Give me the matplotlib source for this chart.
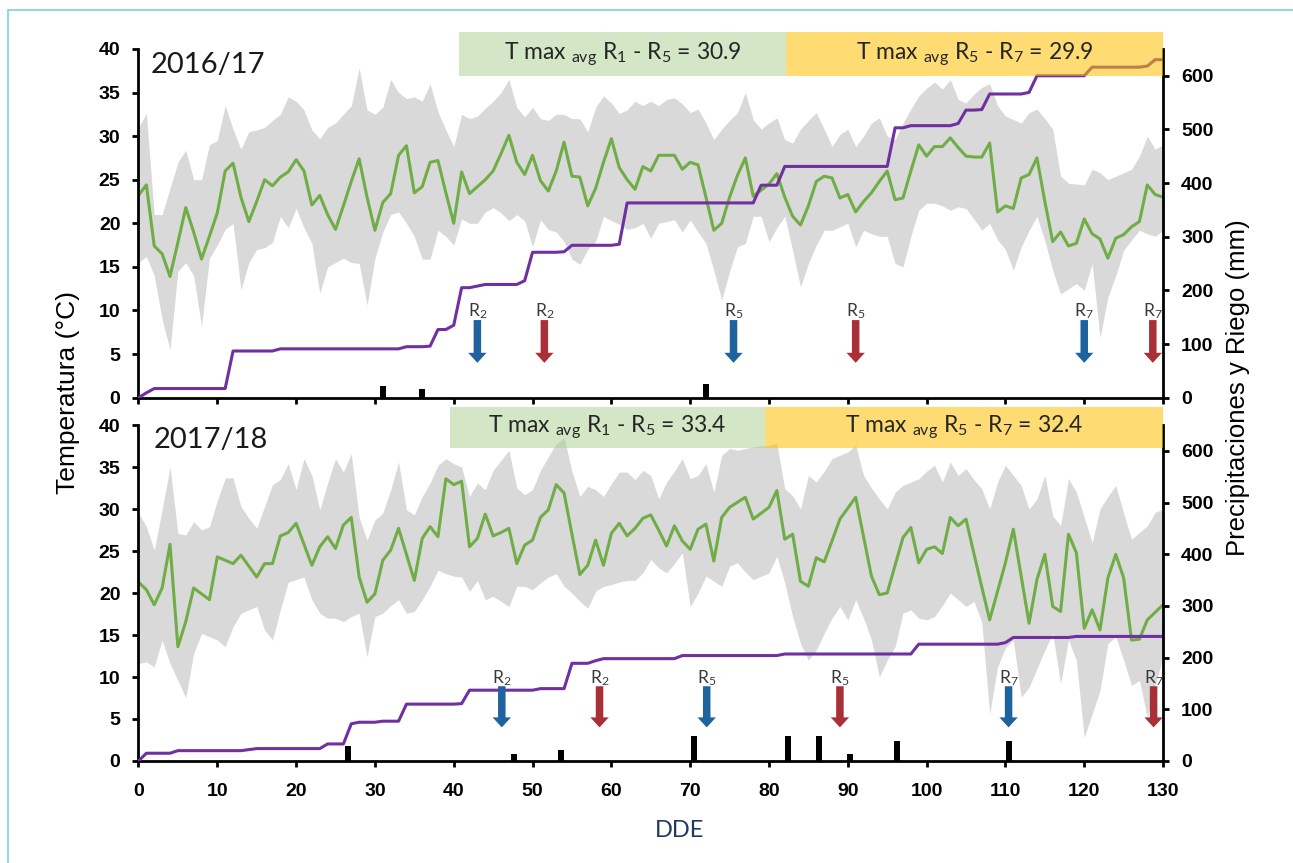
import matplotlib
matplotlib.use('Agg')
import matplotlib.pyplot as plt
from matplotlib.patches import Rectangle
import numpy as np

plt.rcParams['mathtext.fontset'] = 'custom'
plt.rcParams['mathtext.rm'] = 'Lato'
plt.rcParams['mathtext.it'] = 'Lato:italic'

# dias despues de emergencia
dde = np.arange(131)

# campaña 2016/17: temperatura media, maxima y minima diaria (°C)
t16_media = [23.2, 24.4, 17.4, 16.5, 13.9, 17.8, 21.8, 19.0, 15.9, 18.5,
             21.2, 26.0, 26.9, 23.0, 20.2, 22.5, 25.0, 24.3, 25.3, 25.9,
             27.3, 26.0, 22.1, 23.2, 21.0, 19.3, 22.0, 24.8, 27.4, 23.0,
             19.2, 22.4, 23.4, 27.8, 28.9, 23.5, 24.2, 27.0, 27.2, 23.5,
             20.0, 25.9, 23.4, 24.2, 25.0, 26.0, 28.0, 30.1, 27.0, 25.6,
             27.8, 24.9, 23.7, 26.0, 29.3, 25.4, 25.3, 22.0, 24.0, 27.0,
             29.7, 26.4, 25.0, 23.9, 26.5, 26.0, 27.8, 27.8, 27.8, 26.2,
             27.0, 26.7, 23.0, 19.2, 20.0, 23.0, 25.5, 27.5, 23.1, 23.8,
             24.5, 25.7, 23.0, 20.8, 19.8, 22.0, 24.8, 25.4, 25.2, 22.9,
             23.3, 21.3, 22.5, 23.5, 24.8, 26.0, 22.7, 22.9, 26.0, 29.0,
             27.7, 28.8, 28.8, 29.8, 28.7, 27.7, 27.6, 27.6, 29.2, 21.3,
             22.0, 21.7, 25.2, 25.6, 27.5, 22.5, 17.9, 19.0, 17.4, 17.7,
             20.5, 18.8, 18.2, 16.0, 18.3, 18.7, 19.6, 20.2, 24.4, 23.3,
             23.0]
t16_max = [31.0, 32.6, 21.0, 21.0, 24.0, 27.0, 28.4, 25.0, 25.0, 29.0,
           29.5, 33.5, 30.8, 28.5, 30.5, 30.7, 31.0, 31.8, 32.5, 34.5,
           34.0, 33.0, 30.7, 29.7, 31.0, 31.5, 32.5, 33.5, 37.8, 33.0,
           32.5, 33.3, 36.5, 35.0, 34.3, 34.5, 34.0, 36.0, 32.8, 30.7,
           28.8, 32.5, 32.0, 32.3, 33.2, 34.0, 35.0, 36.5, 33.3, 32.2,
           33.3, 32.0, 31.8, 32.5, 32.5, 32.0, 32.0, 30.5, 33.3, 34.6,
           33.8, 32.6, 33.0, 34.0, 33.5, 34.0, 33.5, 34.2, 34.4, 33.7,
           32.7, 33.1, 31.5, 29.6, 30.8, 31.8, 32.7, 35.0, 31.9, 30.8,
           31.5, 32.1, 29.6, 29.2, 30.8, 31.8, 32.7, 30.8, 28.8, 30.2,
           30.8, 28.8, 30.0, 31.5, 32.1, 30.0, 29.6, 31.5, 33.1, 34.6,
           35.5, 36.2, 35.4, 36.5, 34.2, 33.8, 34.8, 35.6, 36.0, 33.5,
           32.3, 31.9, 31.5, 32.7, 33.1, 32.0, 30.8, 25.4, 24.6, 24.5,
           24.4, 26.2, 25.8, 25.0, 25.4, 25.8, 26.2, 27.7, 30.0, 28.5,
           29.0]
t16_min = [15.5, 16.2, 14.0, 9.0, 5.5, 14.5, 15.5, 14.0, 8.2, 16.0,
           17.5, 19.3, 20.0, 12.4, 15.5, 17.0, 17.2, 17.8, 20.8, 19.5,
           21.7, 19.5, 17.7, 12.0, 15.0, 15.5, 16.0, 15.5, 15.4, 10.6,
           16.0, 19.0, 21.0, 21.3, 20.0, 18.5, 15.9, 15.9, 19.2, 18.5,
           17.5, 20.5, 20.0, 20.0, 21.3, 21.8, 21.2, 20.3, 21.0, 20.3,
           17.3, 20.4, 19.3, 19.0, 17.9, 15.9, 15.3, 17.0, 17.9, 20.8,
           20.3, 19.9, 19.3, 19.5, 20.0, 18.3, 20.0, 20.2, 20.4, 19.0,
           20.4, 19.0, 17.7, 14.6, 11.2, 14.5, 17.3, 17.7, 20.8, 20.8,
           17.9, 19.5, 20.8, 16.9, 12.7, 15.4, 17.5, 19.2, 19.2, 19.6,
           20.0, 17.3, 19.2, 18.8, 18.5, 18.5, 15.4, 15.0, 18.5, 21.5,
           22.3, 22.3, 22.0, 21.5, 21.9, 21.7, 20.5, 19.2, 20.0, 18.1,
           17.0, 14.6, 17.3, 19.2, 20.8, 18.0, 14.6, 11.9, 12.5, 13.1,
           12.3, 15.4, 6.9, 11.5, 14.0, 16.9, 18.1, 19.2, 18.8, 18.5,
           19.2]

# campaña 2017/18
t17_media = [21.3, 20.4, 18.6, 20.6, 25.8, 13.6, 16.6, 20.6, 19.9, 19.2,
             24.3, 23.9, 23.5, 24.5, 23.2, 21.9, 23.5, 23.5, 26.8, 27.2,
             28.3, 25.8, 23.3, 25.5, 26.7, 25.3, 28.1, 29.0, 21.9, 18.9,
             19.9, 23.9, 25.1, 27.7, 24.6, 21.5, 26.5, 27.9, 26.7, 33.6,
             32.9, 33.3, 25.5, 26.5, 29.4, 26.8, 27.2, 27.7, 23.5, 25.7,
             26.3, 29.0, 29.9, 32.9, 31.9, 27.0, 22.2, 23.3, 26.3, 23.3,
             27.1, 28.3, 26.8, 27.7, 28.9, 29.3, 27.5, 25.6, 28.0, 26.2,
             25.2, 27.6, 28.2, 23.8, 29.0, 30.2, 30.8, 31.4, 28.8, 29.5,
             30.2, 32.2, 26.4, 27.0, 21.4, 20.8, 24.2, 23.7, 26.2, 28.8,
             30.1, 31.4, 26.7, 22.0, 19.8, 20.0, 23.3, 26.6, 27.8, 23.6,
             25.2, 25.5, 24.7, 29.0, 28.0, 28.8, 24.7, 20.7, 16.8, 20.2,
             23.6, 27.6, 22.0, 16.4, 21.6, 24.6, 18.4, 17.8, 27.0, 24.8,
             15.8, 18.0, 15.6, 21.8, 24.6, 21.8, 14.4, 14.5, 16.8, 17.7,
             18.6]
t17_max = [29.5, 27.9, 25.1, 29.9, 35.0, 27.1, 26.9, 28.5, 27.5, 27.9,
           31.0, 33.7, 33.7, 30.3, 28.9, 27.7, 30.3, 32.9, 33.5, 35.4,
           32.3, 36.0, 34.0, 29.9, 33.1, 36.0, 34.4, 36.6, 29.0, 26.3,
           28.7, 29.5, 32.3, 35.6, 29.9, 29.3, 31.5, 33.1, 35.2, 36.0,
           35.4, 35.0, 31.5, 33.1, 32.3, 34.6, 35.8, 37.0, 32.5, 31.7,
           32.3, 34.6, 36.2, 37.8, 38.5, 34.5, 31.5, 32.7, 32.3, 31.5,
           33.0, 34.4, 34.4, 33.5, 34.6, 34.0, 31.2, 33.2, 34.5, 36.0,
           33.6, 34.0, 35.4, 32.0, 36.4, 37.2, 37.0, 37.2, 37.4, 37.5,
           37.6, 37.8, 32.4, 31.6, 30.0, 34.0, 33.2, 34.5, 36.0, 36.4,
           36.8, 37.6, 34.0, 32.5, 31.2, 30.0, 32.0, 32.8, 33.2, 33.6,
           34.5, 35.2, 33.2, 35.6, 34.0, 34.8, 33.5, 32.4, 30.0, 33.2,
           35.2, 34.0, 32.8, 30.0, 31.2, 34.0, 29.2, 28.0, 33.6, 32.0,
           29.0, 26.0, 30.0, 31.5, 32.8, 29.5, 26.4, 27.2, 28.0, 29.6,
           30.0]
t17_min = [11.6, 11.8, 11.2, 14.4, 11.6, 9.6, 7.5, 12.8, 15.2, 14.8,
           14.4, 13.6, 16.0, 17.6, 18.0, 18.4, 15.6, 14.4, 18.0, 21.3,
           21.6, 21.9, 19.2, 17.6, 17.0, 17.0, 16.6, 17.2, 17.6, 12.4,
           17.2, 17.6, 18.5, 19.2, 17.6, 17.8, 19.2, 20.8, 22.7, 22.3,
           22.0, 21.9, 20.2, 21.5, 19.2, 19.6, 19.0, 18.4, 20.8, 20.8,
           20.4, 21.2, 21.9, 22.3, 20.8, 20.0, 19.0, 18.2, 20.2, 20.8,
           21.0, 21.3, 21.5, 21.5, 22.4, 24.0, 23.0, 22.4, 23.5, 24.8,
           18.4, 20.0, 22.0, 21.4, 20.8, 23.2, 23.6, 22.5, 21.6, 22.0,
           22.4, 24.4, 21.2, 17.2, 14.0, 12.0, 13.2, 15.2, 17.0, 18.4,
           16.8, 19.2, 17.0, 14.4, 10.0, 12.0, 13.6, 17.6, 18.0, 17.0,
           16.8, 17.2, 18.5, 20.0, 19.2, 18.4, 19.0, 16.5, 5.6, 11.2,
           13.5, 14.4, 7.6, 8.8, 11.0, 13.2, 15.2, 9.2, 14.4, 12.0,
           2.8, 5.6, 8.4, 14.0, 14.8, 12.0, 9.0, 9.6, 5.2, 9.0,
           12.4]

# aportes de agua (precipitacion + riego, mm) por dia
agua16_dias = [1, 2, 12, 18, 34, 37, 38, 40, 41, 43, 44, 49, 50, 54, 55,
               61, 62, 79, 82, 96, 98, 104, 105, 107, 108, 113, 114, 121,
               128, 129]
agua16_mm = [9, 8, 70, 4, 4, 1, 31, 8, 70, 3, 3, 7, 53, 1, 12,
             2, 77, 33, 35, 72, 4, 4, 25, 1, 29, 3, 31, 16,
             2, 12]
agua17_dias = [1, 5, 14, 15, 24, 27, 28, 31, 34, 41, 42, 51, 55, 58, 59,
               69, 82, 99, 110, 111, 119]
agua17_mm = [15, 5, 2, 2, 9, 39, 3, 2, 33, 1, 26, 3, 49, 5, 4,
             6, 3, 19, 3, 10, 2]

# lluvias puntuales (mm)
lluvia16_dias = [31, 36, 72]
lluvia16_mm = [22, 17, 26]
lluvia17_dias = [26.6, 47.6, 53.6, 70.5, 82.4, 86.3, 90.3, 96.3, 110.4]
lluvia17_mm = [29, 14, 21, 49, 49, 49, 14, 39, 39]

# estados fenologicos (azul / rojo)
fases = ['R$_2$', 'R$_5$', 'R$_7$']
fases16_azul = [43.0, 75.5, 120.0]
fases16_rojo = [51.5, 91.0, 128.7]
fases17_azul = [46.1, 72.1, 110.4]
fases17_rojo = [58.5, 89.0, 128.8]

# periodos con temperatura maxima media
periodos16 = [40.7, 82.2, 130.0]
periodos17 = [39.5, 79.5, 130.0]
tmax16 = ['30.9', '29.9']
tmax17 = ['33.4', '32.4']

C_VERDE = '#70ad47'
C_MORADO = '#7030a0'
C_AZUL = '#1f639e'
C_ROJO = '#aa3038'


def panel(ax, media, tmax, tmin, agua_dias, agua_mm, lluvia_dias, lluvia_mm,
          azul, rojo, periodos, textos_tmax, caja_y, anio, anio_y):
    ax.fill_between(dde, tmin, tmax, color='#d9d9d9', lw=0)
    ax.plot(dde, media, color=C_VERDE, lw=2.2)
    ax.set_xlim(0, 130)
    ax.set_ylim(0, 40)
    ax.set_xticks(range(0, 131, 10))
    ax.set_yticks(range(0, 41, 5))

    ax2 = ax.twinx()
    aporte = np.zeros(len(dde))
    np.add.at(aporte, agua_dias, agua_mm)
    ax2.plot(dde, np.cumsum(aporte), color=C_MORADO, lw=2.2)
    ax2.bar(lluvia_dias, lluvia_mm, width=0.75, color='black')
    ax2.set_ylim(0, 650)
    ax2.set_yticks(range(0, 601, 100))

    for a in (ax, ax2):
        a.spines['top'].set_visible(False)
    ax.spines['right'].set_visible(False)
    ax2.spines['left'].set_visible(False)
    ax2.spines['bottom'].set_visible(False)
    for s in (ax.spines['left'], ax.spines['bottom'], ax2.spines['right']):
        s.set_linewidth(2)
        s.set_color('black')
    ax.tick_params(direction='out', length=4, width=2, labelsize=14)
    ax.tick_params(axis='y', pad=9)
    ax.tick_params(axis='x', pad=12)
    ax2.tick_params(direction='out', length=4, width=2, labelsize=14, pad=9)
    plt.setp(ax.get_xticklabels() + ax.get_yticklabels() + ax2.get_yticklabels(),
             fontweight='bold', family='Liberation Sans')

    # cajas de temperatura maxima media por periodo
    colores = [('#a9d08e', 0.5), ('#ffc000', 0.55)]
    nombres = [('1', '5'), ('5', '7')]
    for i in range(2):
        x0, x1 = periodos[i], periodos[i + 1]
        ax2.add_patch(Rectangle((x0, caja_y[0]), x1 - x0, caja_y[1] - caja_y[0],
                                transform=ax.transData, facecolor=colores[i][0],
                                alpha=colores[i][1], lw=0, clip_on=False, zorder=5))
        txt = 'T max ${}_{\\mathrm{avg}}$ R$_%s$ - R$_%s$ = %s' % (
            nombres[i][0], nombres[i][1], textos_tmax[i])
        ax2.text((x0 + x1) / 2, (caja_y[0] + caja_y[1]) / 2, txt,
                 transform=ax.transData, ha='center', va='center',
                 fontsize=16.5, family='Lato', color='#262626', zorder=6)

    # flechas de estados fenologicos
    for dias, color in ((azul, C_AZUL), (rojo, C_ROJO)):
        for d, etiqueta in zip(dias, fases):
            ax2.annotate('', xy=(d, 4.0), xytext=(d, 8.9),
                         xycoords=ax.transData, textcoords=ax.transData,
                         arrowprops=dict(arrowstyle='simple,head_length=0.6,head_width=1.1,tail_width=0.45',
                                         fc=color, ec=color, lw=0, shrinkA=0, shrinkB=0,
                                         mutation_scale=12),
                         annotation_clip=False, zorder=4)
            ax2.text(d, 9.3, etiqueta, transform=ax.transData, ha='center',
                     va='baseline', fontsize=12.5, family='Lato', color='#3a3a3a')

    ax.text(anio[0], anio_y, anio[1], fontsize=21, family='Lato',
            va='center', color='#1a1a1a')
    return ax2


fig = plt.figure(figsize=(12.93, 8.63), dpi=100)
ax_a = fig.add_axes([0.1071, 0.5392, 0.7924, 0.4041])
ax_b = fig.add_axes([0.1071, 0.1182, 0.7924, 0.3893])

panel(ax_a, t16_media, t16_max, t16_min, agua16_dias, agua16_mm,
      lluvia16_dias, lluvia16_mm, fases16_azul, fases16_rojo,
      periodos16, tmax16, (36.9, 41.9), (1.6, '2016/17'), 38.2)
panel(ax_b, t17_media, t17_max, t17_min, agua17_dias, agua17_mm,
      lluvia17_dias, lluvia17_mm, fases17_azul, fases17_rojo,
      periodos17, tmax17, (37.3, 42.1), (1.9, '2017/18'), 38.2)
ax_a.tick_params(axis='x', labelbottom=False)

fig.text(68 / 1293, 1 - 392 / 863, 'Temperatura (°C)', rotation=90,
         ha='center', va='center', fontsize=19, family='Liberation Sans')
fig.text(1238 / 1293, 1 - 388 / 863, 'Precipitaciones y Riego (mm)', rotation=90,
         ha='center', va='center', fontsize=18.5, family='Liberation Sans')
fig.text(680 / 1293, 1 - 830 / 863, 'DDE', ha='center', va='center',
         fontsize=17, family='Lato', color='#1f3864')

# marco exterior
fig.add_artist(Rectangle((8 / 1293, -0.1), 1.2, 1.1 - 10 / 863,
                         transform=fig.transFigure, fill=False,
                         edgecolor='#7fcfd6', lw=1.2))

fig.savefig('out.png', dpi=100)
